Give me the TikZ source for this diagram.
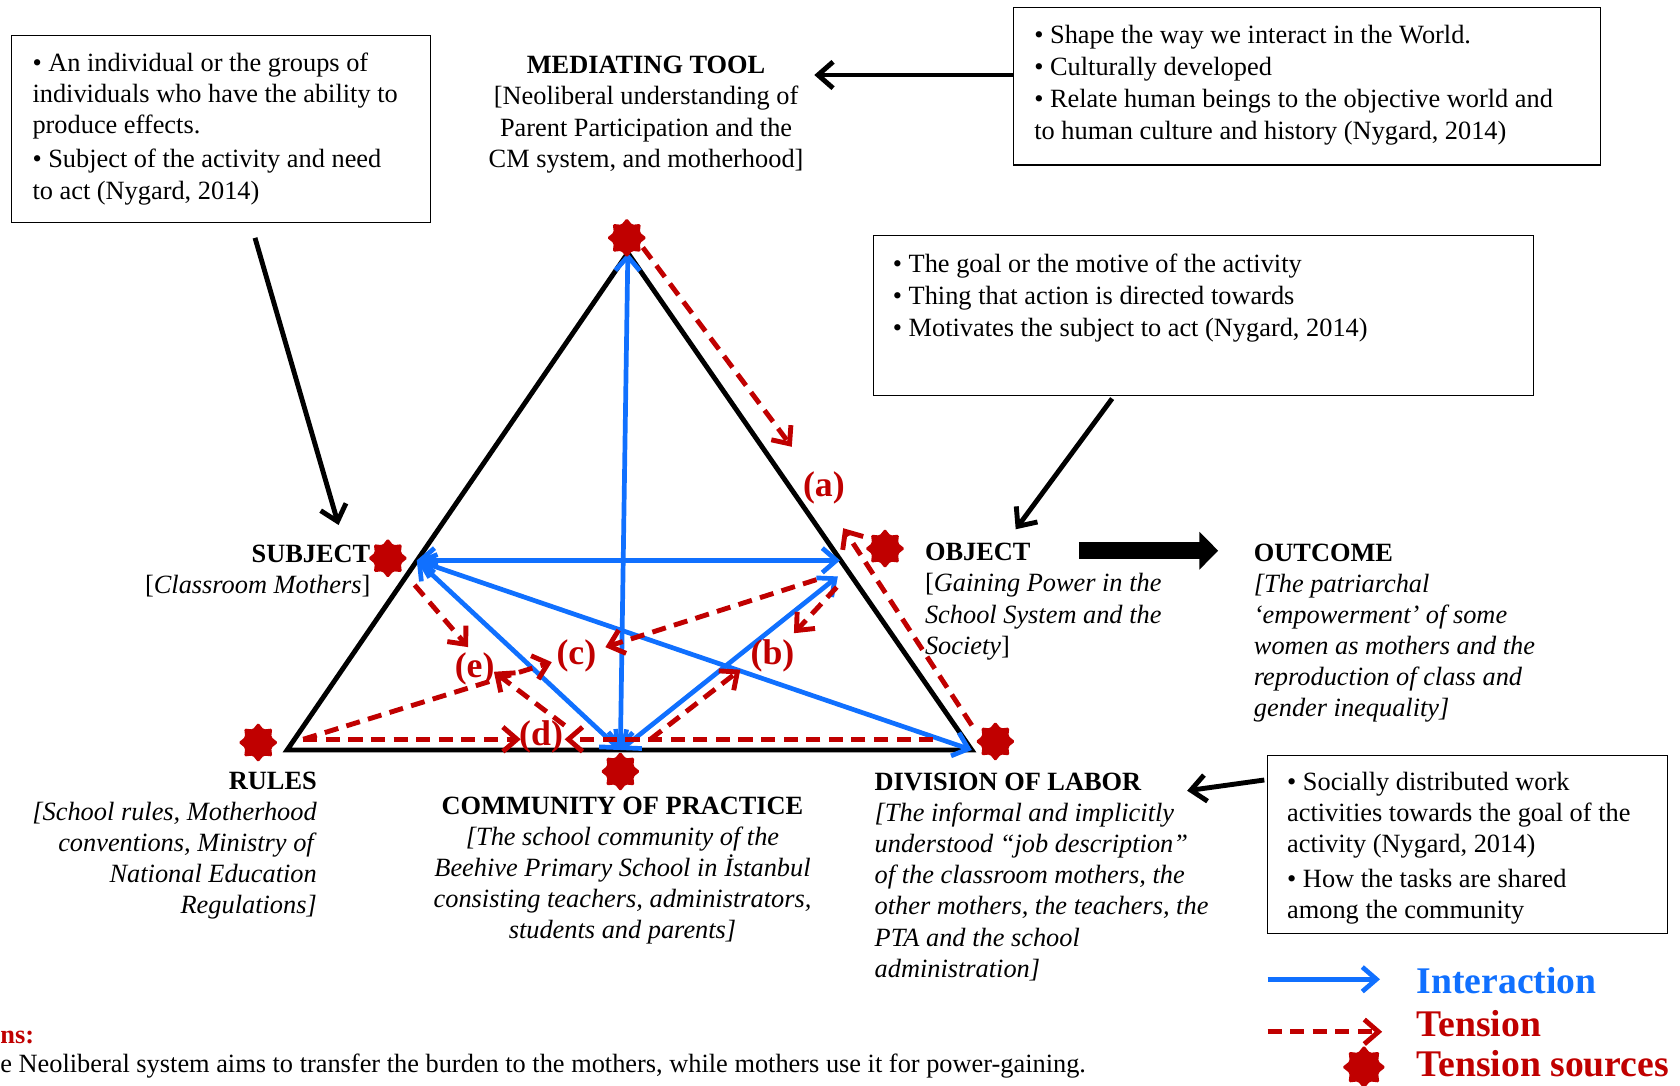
\documentclass[tikz,border=0pt]{standalone}
\usepackage{fontspec}
\setmainfont{Liberation Serif}
\usepackage{tikz}
\usetikzlibrary{arrows.meta, shapes.geometric, calc}

\definecolor{tblue}{RGB}{16,112,255}
\definecolor{tred}{RGB}{192,0,0}

\begin{document}
\begin{tikzpicture}[
    x=0.02cm, y=-0.02cm,
    >={Straight Barb[length=7.5pt, width=13pt]},
    interline/.style={draw=tblue, line width=2.5pt, <->},
    tensline/.style={draw=tred, line width=2.6pt, dash pattern=on 7.5pt off 4.5pt, ->},
    pointer/.style={draw=black, line width=2.6pt, -{Straight Barb[length=8pt, width=14pt]}},
    tsource/.style={star, star points=8, star point ratio=1.4, fill=tred, minimum size=21pt, inner sep=0pt, rounded corners=0.8pt},
    descbox/.style={draw, line width=0.6pt, inner sep=0pt},
    desctext/.style={inner sep=0pt, align=left, anchor=west, font=\fontsize{14}{17}\selectfont},
    vlabel/.style={inner sep=0pt, font=\fontsize{14}{16.5}\selectfont},
    tlabel/.style={inner sep=0pt, text=tred, font=\bfseries\fontsize{19}{22}\selectfont},
    legendtext/.style={inner sep=0pt, anchor=west, font=\bfseries\fontsize{20}{24}\selectfont}
]
    \useasboundingbox (0,0) rectangle (1568,1013);

    % corners of the activity triangle
    \coordinate (tool)  at (586,236);
    \coordinate (subj)  at (389,523);
    \coordinate (obj)   at (784,523);
    \coordinate (rules) at (268,700);
    \coordinate (comm)  at (579,700);
    \coordinate (div)   at (907,700);

    % triangle
    \draw[line width=2.6pt, line join=miter] (rules) -- (tool) -- (div) -- cycle;

    % interactions
    \draw[interline] (tool) -- (comm);
    \draw[interline] (subj) -- (obj);
    \draw[interline] (subj) -- (div);
    \draw[interline] (subj) -- (comm);
    \draw[interline] (comm) -- ($(obj)+(-2,15)$);

    % ends of the tension arrows
    \coordinate (a1s) at (600,231);  \coordinate (a1e) at (739,417);
    \coordinate (a2s) at (907,677);  \coordinate (a2e) at (787,493);
    \coordinate (b1s) at (781,548);  \coordinate (b1e) at (741,591);
    \coordinate (b2s) at (607,690);  \coordinate (b2e) at (691,625);
    \coordinate (c1s) at (762,541);  \coordinate (c1e) at (565,604);
    \coordinate (c2s) at (283,690);  \coordinate (c2e) at (515,618);
    \coordinate (d1s) at (283,690);  \coordinate (d1e) at (486,690);
    \coordinate (d2s) at (871,690);  \coordinate (d2e) at (527,690);
    \coordinate (e1s) at (387,546);  \coordinate (e1e) at (437,604);
    \coordinate (e2s) at (527,677);  \coordinate (e2e) at (461,627);

    % tensions
    \draw[tensline] (a1s) -- (a1e);
    \draw[tensline] (a2s) -- (a2e);
    \draw[tensline] (b1s) -- (b1e);
    \draw[tensline] (b2s) -- (b2e);
    \draw[tensline] (c1s) -- (c1e);
    \draw[tensline] (c2s) -- (c2e);
    \draw[tensline] (d1s) -- (d1e);
    \draw[tensline] (d2s) -- (d2e);
    \draw[tensline] (e1s) -- (e1e);
    \draw[tensline] (e2s) -- (e2e);

    \node[tlabel] (la) at (769,455) {(a)};
    \node[tlabel] (lb) at (721,612) {(b)};
    \node[tlabel] (lc) at (538,612) {(c)};
    \node[tlabel] (ld) at (505,688) {(d)};
    \node[tlabel] (le) at (443,624) {(e)};

    % corner texts
    \node[vlabel, align=center] (toolname) at (603,107)
        {\textbf{MEDIATING TOOL}\\{[}Neoliberal understanding of\\Parent Participation and the\\CM system, and motherhood{]}};
    \node[vlabel, align=right, anchor=east] (subjname) at (346,533)
        {\textbf{SUBJECT}\\{[}\textit{Classroom Mothers}{]}};
    \node[vlabel, align=left, anchor=west] (objname) at (863,561.5)
        {\textbf{OBJECT}\\{[}\textit{Gaining Power in the}\\\textit{School System and the}\\\textit{Society}{]}};
    \node[vlabel, align=left, anchor=west] (outname) at (1170,591)
        {\textbf{OUTCOME}\\\textit{{[}The patriarchal}\\\textit{‘empowerment’ of some}\\\textit{women as mothers and the}\\\textit{reproduction of class and}\\\textit{gender inequality{]}}};
    \node[vlabel, align=right, anchor=east] (rulesname) at (296,789.5)
        {\textbf{RULES}\\\textit{{[}School rules, Motherhood}\\\textit{conventions, Ministry of}\\\textit{National Education}\\\textit{Regulations{]}}};
    \node[vlabel, align=center] (commname) at (581,812.5)
        {\textbf{COMMUNITY OF PRACTICE}\\\textit{{[}The school community of the}\\\textit{Beehive Primary School in İstanbul}\\\textit{consisting teachers, administrators,}\\\textit{students and parents{]}}};
    \node[vlabel, align=left, anchor=west] (divname) at (816,818.5)
        {\textbf{DIVISION OF LABOR}\\\textit{{[}The informal and implicitly}\\\textit{understood “job description”}\\\textit{of the classroom mothers, the}\\\textit{other mothers, the teachers, the}\\\textit{PTA and the school}\\\textit{administration{]}}};

    % description boxes
    \node[descbox, minimum width=7.82cm, minimum height=3.5cm] (subjbox) at (206.5,120.5) {};
    \node[desctext, font=\fontsize{14}{16.5}\selectfont] (subjdesc) at (30,120)
        {\textbullet{} An individual or the groups of\\individuals who have the ability to\\produce effects.\\[2pt]\textbullet{} Subject of the activity and need\\to act (Nygard, 2014)};
    \node[descbox, minimum width=10.96cm, minimum height=2.94cm] (toolbox) at (1220,80.5) {};
    \node[desctext] (tooldesc) at (965,79.5)
        {\textbullet{} Shape the way we interact in the World.\\\textbullet{} Culturally developed\\\textbullet{} Relate human beings to the objective world and\\to human culture and history (Nygard, 2014)};
    \node[descbox, minimum width=12.32cm, minimum height=2.98cm] (objbox) at (1123,294.5) {};
    \node[desctext] (objdesc) at (833,278.5)
        {\textbullet{} The goal or the motive of the activity\\\textbullet{} Thing that action is directed towards\\\textbullet{} Motivates the subject to act (Nygard, 2014)};
    \node[descbox, minimum width=7.46cm, minimum height=3.32cm] (divbox) at (1369.5,788) {};
    \node[desctext, font=\fontsize{14}{16.5}\selectfont] (divdesc) at (1201,792)
        {\textbullet{} Socially distributed work\\activities towards the goal of the\\activity (Nygard, 2014)\\[2pt]\textbullet{} How the tasks are shared\\among the community};

    % pointers from the boxes
    \coordinate (toolptr) at (760,70);
    \coordinate (subjptrs) at (238,222);  \coordinate (subjptr) at (316,490);
    \coordinate (objptrs) at (1038,372);  \coordinate (objptr) at (948,494);
    \coordinate (divptrs) at (1180,728);  \coordinate (divptr) at (1108,738);
    \draw[pointer] (toolbox.west |- toolptr) -- (toolptr);
    \draw[pointer] (subjptrs) -- (subjptr);
    \draw[pointer] (objptrs) -- (objptr);
    \draw[pointer] (divptrs) -- (divptr);

    % object to outcome
    \coordinate (outA) at (1007,514);
    \coordinate (outB) at (1137,514);
    \draw[line width=9pt, -{Triangle[length=10pt, width=19.5pt]}] (outA) -- (outB);

    % legend
    \coordinate (lg1s) at (1183,914);  \coordinate (lg1e) at (1288,914);
    \coordinate (lg2s) at (1183,963);  \coordinate (lg2e) at (1290,963);
    \draw[interline, ->] (lg1s) -- (lg1e);
    \draw[tensline] (lg2s) -- (lg2e);
    \node[legendtext, text=tblue] (lgint) at (1322,915) {Interaction};
    \node[legendtext, text=tred] (lgten) at (1322,955) {Tension};
    \node[legendtext, text=tred] (lgsrc) at (1322,993) {Tension sources};

    % notes at the bottom
    \node[inner sep=0pt, anchor=west, text=tred, font=\bfseries\fontsize{14}{16.5}\selectfont] (notes) at (0,968) {ns:};
    \node[inner sep=0pt, anchor=west, font=\fontsize{14}{16.5}\selectfont] (note1) at (0,995)
        {e Neoliberal system aims to transfer the burden to the mothers, while mothers use it for power-gaining.};

    % tension sources
    \node[tsource] (st) at (585,222) {};
    \node[tsource] (ss) at (362,521) {};
    \node[tsource] (so) at (826,512) {};
    \node[tsource] (sr) at (241,693) {};
    \node[tsource] (sc) at (579,720) {};
    \node[tsource] (sd) at (929,692) {};
    \node[tsource, minimum size=23pt] (slg) at (1273,996) {};
\end{tikzpicture}
\end{document}
